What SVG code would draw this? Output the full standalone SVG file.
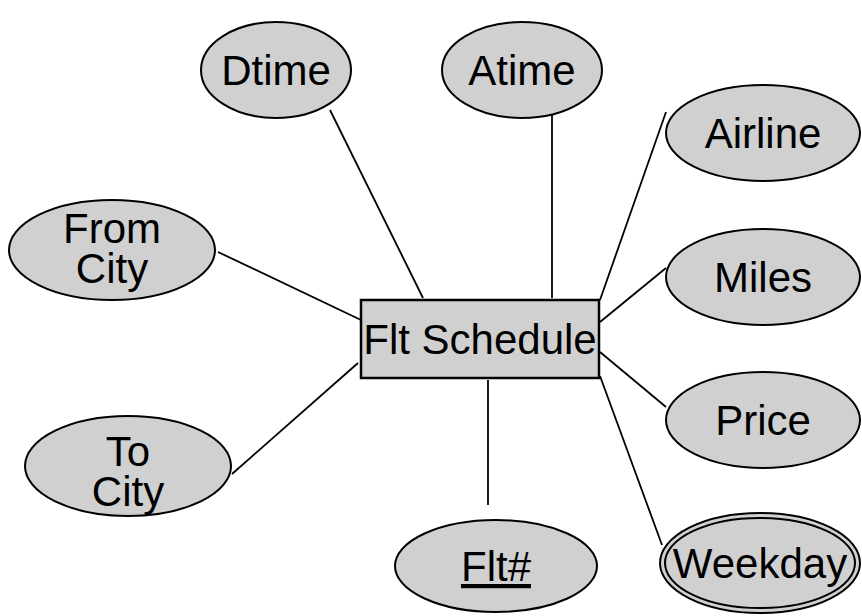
<svg xmlns="http://www.w3.org/2000/svg" width="862" height="616" viewBox="0 0 862 616">
  <style>
    .attr { fill: #d0d0d0; stroke: #000; stroke-width: 2; }
    .ent { fill: #d0d0d0; stroke: #000; stroke-width: 2.5; }
    .lbl { font-family: "Liberation Sans", Arial, sans-serif; font-size: 42px; fill: #000; text-anchor: middle; }
    .link { stroke: #000; stroke-width: 1.8; fill: none; }
  </style>
  <rect width="862" height="616" fill="#fff"/>

  <!-- connectors between entity and attributes -->
  <g id="connectors" class="link">
    <line x1="330" y1="110" x2="423" y2="298"/>
    <line x1="552" y1="98" x2="552" y2="298"/>
    <line x1="666" y1="112" x2="600" y2="300"/>
    <line x1="666" y1="268" x2="600" y2="322"/>
    <line x1="666" y1="407" x2="600" y2="352"/>
    <line x1="662" y1="545" x2="600" y2="376"/>
    <line x1="218" y1="252" x2="361" y2="320"/>
    <line x1="232" y1="474" x2="358" y2="363"/>
    <line x1="488" y1="380" x2="488" y2="505"/>
  </g>

  <!-- entity -->
  <g id="flt-schedule">
    <rect class="ent" x="361" y="300" width="238" height="78"/>
    <text class="lbl" x="480" y="354">Flt Schedule</text>
  </g>

  <!-- attributes -->
  <g id="dtime">
    <ellipse class="attr" cx="276" cy="70" rx="75" ry="48"/>
    <text class="lbl" x="276" y="85">Dtime</text>
  </g>
  <g id="atime">
    <ellipse class="attr" cx="522" cy="70" rx="80" ry="48"/>
    <text class="lbl" x="522" y="85">Atime</text>
  </g>
  <g id="airline">
    <ellipse class="attr" cx="763" cy="133" rx="97" ry="48"/>
    <text class="lbl" x="763" y="148">Airline</text>
  </g>
  <g id="miles">
    <ellipse class="attr" cx="763" cy="277" rx="97" ry="48"/>
    <text class="lbl" x="763" y="292">Miles</text>
  </g>
  <g id="price">
    <ellipse class="attr" cx="763" cy="420" rx="97" ry="48"/>
    <text class="lbl" x="763" y="435">Price</text>
  </g>
  <g id="weekday">
    <ellipse class="attr" cx="760" cy="563" rx="100" ry="50"/>
    <ellipse fill="none" stroke="#000" stroke-width="2" cx="760" cy="563" rx="95" ry="45"/>
    <text class="lbl" x="760" y="578">Weekday</text>
  </g>
  <g id="from-city">
    <ellipse class="attr" cx="112" cy="250" rx="103" ry="50"/>
    <text class="lbl" x="112" y="243">From<tspan x="112" dy="40">City</tspan></text>
  </g>
  <g id="to-city">
    <ellipse class="attr" cx="128" cy="466" rx="103" ry="50"/>
    <text class="lbl" x="128" y="466">To<tspan x="128" dy="40">City</tspan></text>
  </g>
  <g id="flt-no">
    <ellipse class="attr" cx="496" cy="566" rx="101" ry="46"/>
    <text class="lbl" x="496" y="581" text-decoration="underline">Flt#</text>
  </g>
</svg>
